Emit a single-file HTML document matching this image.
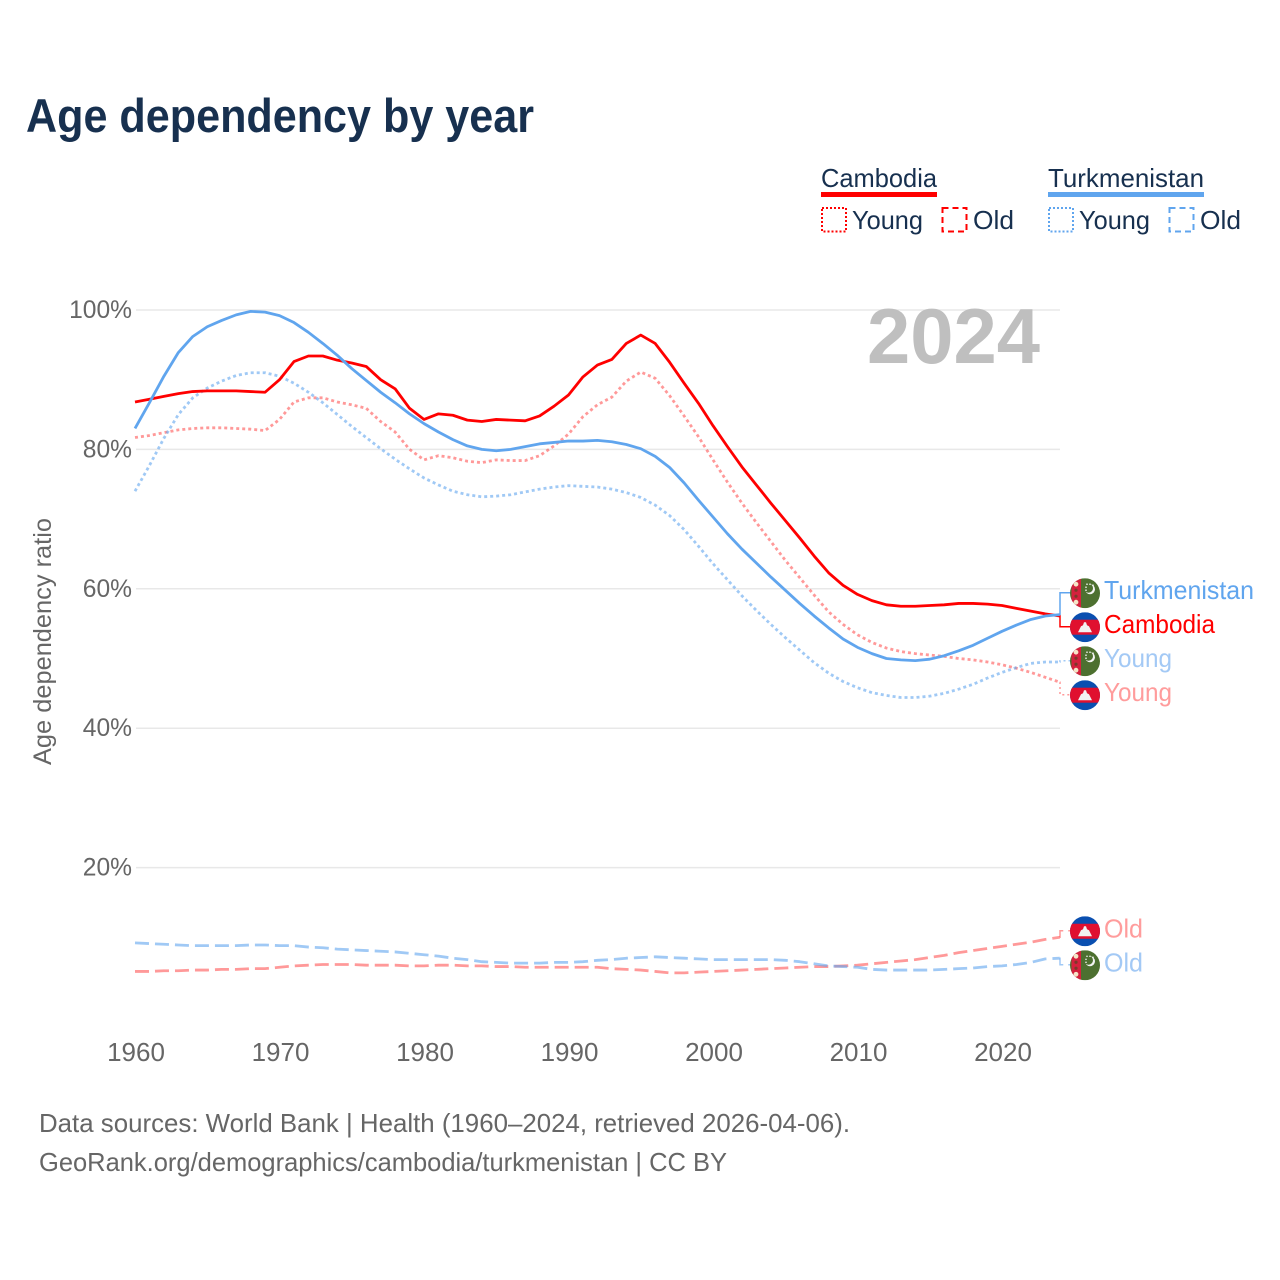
<!DOCTYPE html>
<html lang="en">
<head>
<meta charset="utf-8">
<title>Age dependency by year</title>
<style>
  html, body { margin: 0; padding: 0; background: #fff; }
  svg { display: block; font-family: "Liberation Sans", sans-serif; }
</style>
</head>
<body>
<svg id="chart" xmlns="http://www.w3.org/2000/svg" width="1280" height="1280" viewBox="0 0 1280 1280">
  <rect x="0" y="0" width="1280" height="1280" fill="#ffffff"/>
  <text x="26" y="132" font-size="47" font-weight="700" fill="#17304f" textLength="508" lengthAdjust="spacingAndGlyphs">Age dependency by year</text>

  <g>
    <text x="821" y="187" font-size="26" fill="#17304f" textLength="116" lengthAdjust="spacingAndGlyphs">Cambodia</text>
    <rect x="821" y="192" width="116" height="5" fill="#ff0000"/>
    <rect x="822" y="208" width="24" height="23.500" fill="none" stroke="#ff0000" stroke-width="2" stroke-dasharray="2 2"/>
    <text x="852" y="229" font-size="26" fill="#17304f" textLength="71" lengthAdjust="spacingAndGlyphs">Young</text>
    <rect x="942.500" y="208" width="24" height="23.500" fill="none" stroke="#ff0000" stroke-width="2" stroke-dasharray="6 4"/>
    <text x="973" y="229" font-size="26" fill="#17304f" textLength="41" lengthAdjust="spacingAndGlyphs">Old</text>

    <text x="1048" y="187" font-size="26" fill="#17304f" textLength="156" lengthAdjust="spacingAndGlyphs">Turkmenistan</text>
    <rect x="1048" y="192" width="156" height="5" fill="#60a5ee"/>
    <rect x="1049" y="208" width="24" height="23.500" fill="none" stroke="#60a5ee" stroke-width="2" stroke-dasharray="2 2"/>
    <text x="1079" y="229" font-size="26" fill="#17304f" textLength="71" lengthAdjust="spacingAndGlyphs">Young</text>
    <rect x="1169.500" y="208" width="24" height="23.500" fill="none" stroke="#60a5ee" stroke-width="2" stroke-dasharray="6 4"/>
    <text x="1200" y="229" font-size="26" fill="#17304f" textLength="41" lengthAdjust="spacingAndGlyphs">Old</text>
  </g>

  <g id="grid"></g>
  <g id="xticks"></g>
  <g id="yticks"></g>

  <text transform="translate(51,765) rotate(-90)" x="0" y="0" font-size="25" fill="#666666" textLength="247" lengthAdjust="spacingAndGlyphs">Age dependency ratio</text>
  <text x="867" y="363" font-size="78" font-weight="700" fill="#bfbfbf" textLength="173" lengthAdjust="spacingAndGlyphs">2024</text>

  <g id="series"></g>
  <g id="labels"></g>

  <text x="39" y="1132" font-size="26" fill="#666666" textLength="811" lengthAdjust="spacingAndGlyphs">Data sources: World Bank | Health (1960–2024, retrieved 2026-04-06).</text>
  <text x="39" y="1171" font-size="26" fill="#666666" textLength="688" lengthAdjust="spacingAndGlyphs">GeoRank.org/demographics/cambodia/turkmenistan | CC BY</text>
</svg>
<script>
const startYear = 1960;
const yearTicks = [1960, 1970, 1980, 1990, 2000, 2010, 2020];
const pctTicks = [20, 40, 60, 80, 100];

const cambodiaTotal = [86.8,87.2,87.6,88.0,88.3,88.4,88.4,88.4,88.3,88.2,90.0,92.6,93.4,93.4,92.8,92.4,91.9,90.0,88.7,85.9,84.3,85.1,84.9,84.2,84.0,84.3,84.2,84.1,84.8,86.2,87.8,90.4,92.1,92.9,95.2,96.4,95.2,92.5,89.5,86.6,83.4,80.4,77.5,74.9,72.3,69.8,67.3,64.7,62.3,60.5,59.2,58.3,57.7,57.5,57.5,57.6,57.7,57.9,57.9,57.8,57.6,57.2,56.8,56.4,56.1];
const cambodiaYoung = [81.7,82.0,82.4,82.8,83.0,83.1,83.1,83.0,82.9,82.7,84.3,86.8,87.4,87.4,86.8,86.4,85.9,84.0,82.5,80.0,78.5,79.1,78.8,78.3,78.1,78.5,78.4,78.4,79.1,80.5,82.2,84.7,86.4,87.5,89.8,91.1,90.2,87.7,84.8,81.8,78.5,75.3,72.3,69.5,66.8,64.1,61.6,59.1,56.7,54.9,53.4,52.3,51.5,51.0,50.7,50.5,50.3,50.0,49.8,49.5,49.1,48.6,48.0,47.3,46.6];
const cambodiaOld = [5.1,5.1,5.2,5.2,5.3,5.3,5.4,5.4,5.5,5.5,5.7,5.9,6.0,6.1,6.1,6.1,6.0,6.0,6.0,5.9,5.9,6.0,6.0,5.9,5.9,5.8,5.8,5.7,5.7,5.7,5.7,5.7,5.7,5.5,5.4,5.3,5.1,4.9,4.9,5.0,5.1,5.2,5.3,5.4,5.5,5.6,5.7,5.8,5.8,5.9,6.0,6.2,6.4,6.6,6.8,7.1,7.4,7.8,8.1,8.4,8.7,9.0,9.3,9.7,10.0];
const turkmenistanTotal = [83.0,86.7,90.5,93.9,96.2,97.6,98.5,99.3,99.8,99.7,99.2,98.2,96.8,95.2,93.5,91.6,89.9,88.2,86.7,85.1,83.7,82.5,81.4,80.5,80.0,79.8,80.0,80.4,80.8,81.0,81.2,81.2,81.3,81.1,80.7,80.1,79.0,77.4,75.2,72.7,70.3,67.9,65.7,63.7,61.7,59.8,57.9,56.1,54.4,52.8,51.6,50.7,50.0,49.8,49.7,49.9,50.4,51.1,51.9,52.9,53.9,54.8,55.6,56.1,56.3];
const turkmenistanYoung = [74.0,77.7,81.6,85.0,87.4,88.8,89.8,90.6,91.0,91.0,90.5,89.5,88.2,86.7,85.0,83.3,81.7,80.1,78.6,77.2,75.9,74.9,74.0,73.5,73.2,73.3,73.5,73.9,74.3,74.6,74.8,74.7,74.6,74.3,73.8,73.1,72.0,70.5,68.5,66.1,63.6,61.3,59.0,56.9,54.9,53.0,51.2,49.4,47.9,46.7,45.8,45.1,44.7,44.4,44.4,44.6,45.0,45.6,46.3,47.2,48.0,48.7,49.3,49.5,49.5];
const turkmenistanOld = [9.2,9.1,9.0,8.9,8.8,8.8,8.8,8.8,8.9,8.9,8.8,8.8,8.6,8.5,8.3,8.2,8.1,8.0,7.9,7.7,7.5,7.3,7.0,6.8,6.5,6.4,6.3,6.3,6.3,6.4,6.4,6.5,6.7,6.8,7.0,7.1,7.2,7.1,7.0,6.9,6.8,6.8,6.8,6.8,6.8,6.7,6.5,6.2,5.9,5.8,5.7,5.4,5.3,5.3,5.3,5.3,5.4,5.5,5.6,5.8,5.9,6.1,6.4,6.9,7.0];

const NS = 'http://www.w3.org/2000/svg';
const xScale = function (year) { return 135 + (year - startYear) * 14.45; };
const yScale = function (pct) { return 1007 - pct * 6.97; };
const elementOf = function (tag, attrs) {
  const el = document.createElementNS(NS, tag);
  Object.keys(attrs).forEach(function (k) { el.setAttribute(k, attrs[k]); });
  return el;
};

const gridLayer = document.getElementById('grid');
const xLayer = document.getElementById('xticks');
const yLayer = document.getElementById('yticks');
const seriesLayer = document.getElementById('series');
const labelLayer = document.getElementById('labels');

pctTicks.forEach(function (t) {
  const line = elementOf('line', { x1: 136, x2: 1060, y1: yScale(t), y2: yScale(t), stroke: '#e8e8e8', 'stroke-width': 1.5 });
  
  
  gridLayer.appendChild(line);

  const label = elementOf('text', { x: 132, y: yScale(t) + 8, 'text-anchor': 'end', 'font-size': 24.6, fill: '#666666' });
  
  
  label.textContent = t + '%';
  yLayer.appendChild(label);
});

yearTicks.forEach(function (t) {
  const label = elementOf('text', { x: xScale(t) + 1, y: 1061, 'text-anchor': 'middle', 'font-size': 26, fill: '#666666' });
  
  
  label.textContent = t;
  xLayer.appendChild(label);
});

const BLUE = '#60a5ee', RED = '#ff0000';
const seriesList = [
  { id: 'cambodia-old', values: cambodiaOld, color: RED, opacity: 0.4, dash: '14 6', label: 'Old', text: '#ff9c9c', flag: 'kh' },
  { id: 'turkmenistan-old', values: turkmenistanOld, color: BLUE, opacity: 0.6, dash: '14 6', label: 'Old', text: '#a3c9f5', flag: 'tm' },
  { id: 'cambodia-young', values: cambodiaYoung, color: RED, opacity: 0.4, dash: '3 3', label: 'Young', text: '#ff9c9c', flag: 'kh' },
  { id: 'turkmenistan-young', values: turkmenistanYoung, color: BLUE, opacity: 0.6, dash: '3 3', label: 'Young', text: '#a3c9f5', flag: 'tm' },
  { id: 'cambodia-total', values: cambodiaTotal, color: RED, opacity: 1, dash: 'none', label: 'Cambodia', text: '#ff0000', flag: 'kh' },
  { id: 'turkmenistan-total', values: turkmenistanTotal, color: BLUE, opacity: 1, dash: 'none', label: 'Turkmenistan', text: '#60a5ee', flag: 'tm' }
];

seriesList.forEach(function (s) {
  const points = s.values.map(function (v, i) { return xScale(startYear + i).toFixed(2) + ',' + yScale(v).toFixed(2); });
  const path = elementOf('polyline', { points: points.join(' '), fill: 'none', stroke: s.color, 'stroke-opacity': s.opacity, 'stroke-width': 2.8, 'stroke-dasharray': s.dash, 'stroke-linejoin': 'round' });
  
  
  seriesLayer.appendChild(path);
});

/* dodge the end labels so that they sit 34px apart, centred on each cluster */
const ends = seriesList.map(function (s) {
  return { s: s, y: yScale(s.values[s.values.length - 1]) };
}).sort(function (a, b) { return a.y - b.y; });
const SPACING = 34;
let clusters = ends.map(function (e) { return { items: [e], mean: e.y }; });
let merged = true;
while (merged) {
  merged = false;
  for (let i = 0; i < clusters.length - 1; i++) {
    const a = clusters[i], b = clusters[i + 1];
    const aBottom = a.mean + (a.items.length - 1) * SPACING / 2;
    const bTop = b.mean - (b.items.length - 1) * SPACING / 2;
    if (bTop - aBottom < SPACING) {
      const items = a.items.concat(b.items);
      const sum = items.reduce(function (t, e) { return t + e.y; }, 0);
      clusters.splice(i, 2, { items: items, mean: sum / items.length });
      merged = true;
      break;
    }
  }
}

function drawFlag(group, code, cx, cy) {
  const clipId = 'clip-' + Math.round(cy);
  const clip = elementOf('clipPath', { id: clipId });
  clip.appendChild(elementOf('circle', { cx: cx, cy: cy, r: 15 }));
  group.appendChild(clip);
  const body = elementOf('g', { 'clip-path': 'url(#' + clipId + ')' });
  group.appendChild(body);
  if (code === 'kh') {
    body.appendChild(elementOf('rect', { x: cx - 15, y: cy - 15, width: 30, height: 30, fill: '#0a4fb0' }));
    body.appendChild(elementOf('rect', { x: cx - 15, y: cy - 7.500, width: 30, height: 15, fill: '#e0102f' }));
    const temple = [[-7,5],[7,5],[5,1],[4,-1],[2,-2],[1,-5],[-1,-5],[-2,-2],[-4,-1],[-5,1]].map(function (p) { return (cx + p[0]) + ',' + (cy + p[1]); }).join(' ');
    body.appendChild(elementOf('polygon', { points: temple, fill: '#f2f2f2' }));
  } else {
    body.appendChild(elementOf('rect', { x: cx - 15, y: cy - 15, width: 30, height: 30, fill: '#4d7030' }));
    body.appendChild(elementOf('rect', { x: cx - 13.500, y: cy - 15, width: 9.500, height: 30, fill: '#d4213d' }));
    [-9, -3, 3, 9].forEach(function (d) {
      body.appendChild(elementOf('circle', { cx: cx - 9, cy: cy + d, r: d === -9 || d === 9 ? 2.4 : 1.6, fill: d === -9 || d === 9 ? '#f5e6c8' : '#7a3a2a' }));
    });
    body.appendChild(elementOf('circle', { cx: cx + 5, cy: cy - 4, r: 5, fill: '#f4f4f4' }));
    body.appendChild(elementOf('circle', { cx: cx + 3.500, cy: cy - 5, r: 4.500, fill: '#4d7030' }));
    [[2,-9],[5,-9],[8,-8],[1,-6],[1,-3]].forEach(function (p) {
      body.appendChild(elementOf('circle', { cx: cx + p[0], cy: cy + p[1], r: 0.8, fill: '#f4f4f4' }));
    });
  }
}

clusters.forEach(function (c) {
  c.items.forEach(function (e, i) {
    const labelY = c.mean + (i - (c.items.length - 1) / 2) * SPACING;
    const s = e.s;

    const leader = elementOf('path', { d: 'M' + xScale(2024) + ' ' + e.y + 'H1060V' + labelY + 'H1072', fill: 'none', stroke: s.color, 'stroke-opacity': s.opacity, 'stroke-width': 1.5, 'stroke-dasharray': s.dash === 'none' ? 'none' : (s.dash === '3 3' ? '2 3' : '10 5') });
    
    
    labelLayer.appendChild(leader);

    const flag = elementOf('g', {});
    
    
    labelLayer.appendChild(flag);
    drawFlag(flag, s.flag, 1085, labelY + 0.5);

    const text = elementOf('text', { x: 1104, y: labelY + 6.5, 'font-size': 26, fill: s.text });
    if (s.label === 'Turkmenistan') { text.setAttribute('textLength', 150); text.setAttribute('lengthAdjust', 'spacingAndGlyphs'); }
    if (s.label === 'Cambodia') { text.setAttribute('textLength', 111); text.setAttribute('lengthAdjust', 'spacingAndGlyphs'); }
    if (s.label === 'Young') { text.setAttribute('textLength', 68); text.setAttribute('lengthAdjust', 'spacingAndGlyphs'); }
    if (s.label === 'Old') { text.setAttribute('textLength', 39); text.setAttribute('lengthAdjust', 'spacingAndGlyphs'); }
    
    
    text.textContent = s.label;
    labelLayer.appendChild(text);
  });
});
</script>
</body>
</html>
